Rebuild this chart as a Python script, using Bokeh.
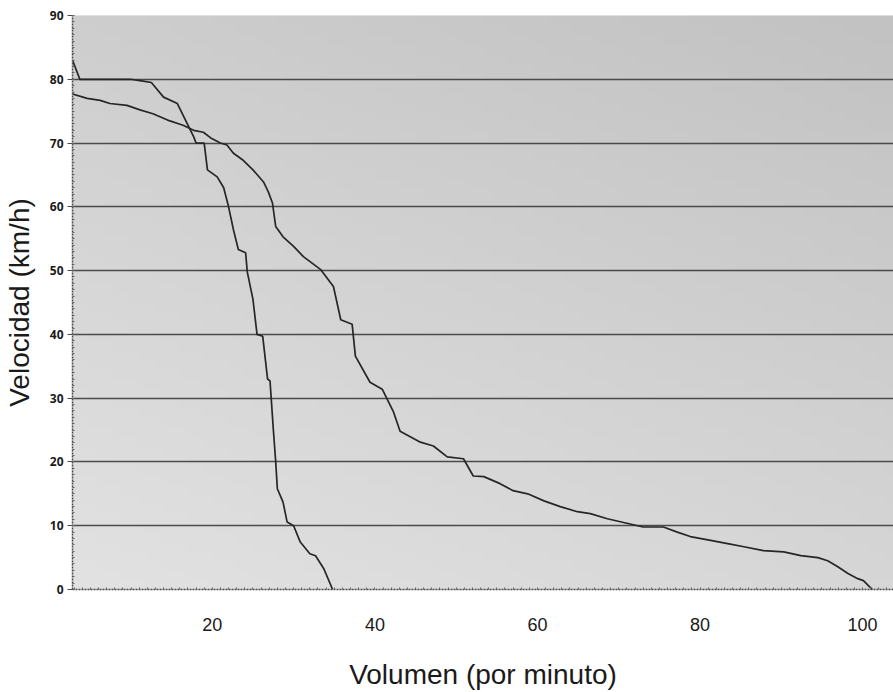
import numpy as np
from bokeh.plotting import figure
from bokeh.models import FixedTicker, Range1d
from bokeh.embed import file_html
from bokeh.resources import INLINE

# Curve 1 (steep drop)
vol_a = [2.8, 3.7, 6.0, 9.9, 11.5, 12.5, 14.0, 15.7, 16.7, 17.7, 18.0, 19.0, 19.4, 20.6, 21.4,
         22.0, 22.6, 23.2, 24.1, 24.3, 25.0, 25.5, 26.2, 26.8, 27.1, 27.5, 27.8, 28.0, 28.7,
         29.2, 30.0, 30.8, 32.0, 32.7, 33.7, 34.8]
vel_a = [83.0, 80.0, 80.0, 80.0, 79.7, 79.5, 77.2, 76.2, 73.6, 71.0, 70.0, 70.0, 65.8, 64.7, 63.0,
         60.0, 56.4, 53.3, 52.8, 49.8, 45.5, 40.0, 39.7, 33.0, 32.7, 25.2, 20.0, 15.8, 13.7,
         10.6, 10.0, 7.5, 5.6, 5.3, 3.3, 0.0]

# Curve 2 (long tail)
vol_b = [2.8, 4.6, 6.2, 7.4, 9.5, 11.1, 12.7, 14.5, 16.4, 17.7, 18.9, 19.8, 21.0, 21.8, 22.6,
         23.8, 25.0, 26.3, 26.9, 27.4, 27.8, 28.7, 30.0, 31.2, 33.3, 34.9, 35.8, 37.2, 37.6,
         39.4, 40.9, 42.3, 43.1, 45.6, 47.2, 48.9, 50.9, 52.1, 53.4, 55.4, 57.0, 58.8, 60.8,
         62.8, 64.9, 66.5, 68.6, 70.6, 73.0, 75.5, 77.2, 78.8, 81.3, 83.4, 85.4, 87.8, 90.3,
         92.4, 94.5, 95.7, 96.9, 98.2, 99.4, 100.1, 101.2]
vel_b = [77.7, 77.0, 76.7, 76.2, 75.9, 75.2, 74.6, 73.6, 72.8, 72.0, 71.7, 70.8, 70.0, 69.7, 68.4,
         67.3, 65.8, 63.9, 62.3, 60.6, 56.9, 55.3, 53.8, 52.2, 50.2, 47.5, 42.3, 41.6, 36.6,
         32.5, 31.4, 27.8, 24.8, 23.1, 22.5, 20.8, 20.5, 17.8, 17.7, 16.6, 15.5, 15.0, 13.9,
         13.0, 12.2, 11.9, 11.1, 10.5, 9.8, 9.8, 9.0, 8.3, 7.7, 7.2, 6.7, 6.1, 5.9,
         5.3, 5.0, 4.5, 3.6, 2.5, 1.7, 1.4, 0.0]

x_ticks = [20, 40, 60, 80, 100]
y_ticks = [0, 10, 20, 30, 40, 50, 60, 70, 80, 90]

X0, X1 = 2.8, 103.8
p = figure(width=893, height=692, output_backend="svg", toolbar_location=None,
           x_range=Range1d(X0, X1), y_range=Range1d(0, 90),
           min_border_left=72, min_border_right=0, min_border_top=15, min_border_bottom=101)

p.background_fill_color = "#d2d2d2"
p.border_fill_color = "white"
p.outline_line_color = None

# smooth paper-tone gradient for the background (light lower-left, darker upper-right)
ny, nx = 60, 100
ty = np.linspace(0, 1, ny)[:, None]
tx = np.linspace(0, 1, nx)[None, :]
lum = (226 - 20 * ty - 12 * tx).astype(np.uint32)
img = (255 << 24) | (lum << 16) | (lum << 8) | lum
p.image_rgba(image=[img.astype(np.uint32)], x=X0, y=0, dw=X1 - X0, dh=90, level="image")

p.line(vol_a, vel_a, line_color="#262626", line_width=1.7)
p.line(vol_b, vel_b, line_color="#262626", line_width=1.7)

p.xaxis.ticker = FixedTicker(ticks=x_ticks, minor_ticks=list(range(3, 104)))
p.yaxis.ticker = FixedTicker(ticks=y_ticks, minor_ticks=list(range(0, 91)))

p.xgrid.grid_line_color = None
p.ygrid.grid_line_color = "#3c3c3c"
p.ygrid.grid_line_width = 1.7
p.ygrid.grid_line_alpha = 0.9

for ax in (p.xaxis, p.yaxis):
    ax.axis_line_color = "#4a4a4a"
    ax.axis_line_width = 1.5
    ax.axis_line_dash = "2 1"
    ax.minor_tick_line_color = "#666666"
    ax.minor_tick_in = 2
    ax.minor_tick_out = 0
    ax.major_tick_line_color = "#4a4a4a"
    ax.axis_label_text_font = "Liberation Sans"
    ax.axis_label_text_font_style = "normal"
    ax.axis_label_text_color = "#1a1a1a"
    ax.axis_label_text_font_size = "28px"
    ax.major_label_text_color = "#1a1a1a"

p.xaxis.major_tick_out = 0
p.xaxis.major_tick_in = 0
p.xaxis.major_label_standoff = 28
p.xaxis.major_label_text_font = "Liberation Sans"
p.xaxis.major_label_text_font_size = "18px"
p.xaxis.axis_label = "Volumen (por minuto)"
p.xaxis.axis_label_standoff = 25

p.yaxis.major_tick_out = 5
p.yaxis.major_tick_in = 0
p.yaxis.major_label_standoff = 4
p.yaxis.major_label_text_font = "Open Sans"
p.yaxis.major_label_text_font_style = "bold"
p.yaxis.major_label_text_font_size = "12px"
p.yaxis.axis_label = "Velocidad (km/h)"
p.yaxis.axis_label_standoff = 12

open("out.html", "w").write(file_html(p, INLINE))
